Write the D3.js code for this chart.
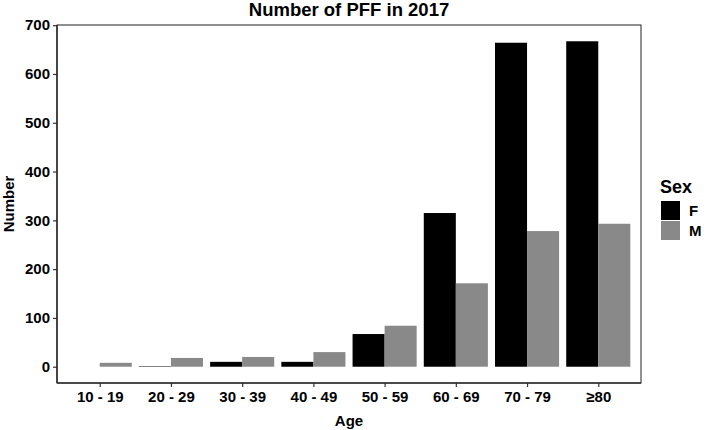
<!DOCTYPE html>
<html>
<script src="https://d3js.org/d3.v7.min.js"></script>
<style>
  body { margin: 0; background: white; }
  text { font-family: "Liberation Sans", Arial, sans-serif; font-weight: bold; fill: black; }
</style>
<body>
<svg width="709" height="430"></svg>
<script>
// data
var ages = ["10 - 19", "20 - 29", "30 - 39", "40 - 49", "50 - 59", "60 - 69", "70 - 79", "\u226580"];
var sexes = ["F", "M"];
var female = [0, 1, 10, 10, 67, 315, 664, 667];
var male = [8, 18, 20, 30, 84, 171, 278, 293];
var yTicks = [0, 100, 200, 300, 400, 500, 600, 700];
var colors = ["#000000", "#898989"];

var svg = d3.select("svg");
var pLeft = 57, pRight = 641, pTop = 25, pBottom = 383;

// discrete axis with 0.6 expansion on each side, like ggplot
var x = d3.scalePoint().domain(ages).range([pLeft, pRight]).padding(0.6);
var step = x.step();
var xs = d3.scaleBand().domain(sexes).range([-0.45 * step, 0.45 * step]);
var y = d3.scaleLinear().domain([-33.35, 700.35]).range([pBottom, pTop]);

var rows = ages.map(function(a, i) { return {age: a, values: [female[i], male[i]]}; });

// panel border
svg.append("rect")
  .attr("x", pLeft).attr("y", pTop)
  .attr("width", pRight - pLeft).attr("height", pBottom - pTop)
  .attr("fill", "white").attr("stroke", "#222").attr("stroke-width", 1);

var g = svg.append("g");
rows.forEach(function(r) {
  r.values.forEach(function(v, j) {
    if (v <= 0) return;
    g.append("rect")
      .attr("x", x(r.age) + xs(sexes[j]))
      .attr("width", xs.bandwidth())
      .attr("y", y(v))
      .attr("height", y(0) - y(v))
      .attr("fill", colors[j]);
  });
});

// axes
var yAxis = svg.append("g")
  .attr("transform", "translate(" + pLeft + ",0)")
  .call(d3.axisLeft(y).tickValues(yTicks).tickSize(4).tickPadding(3));
var xAxis = svg.append("g")
  .attr("transform", "translate(0," + pBottom + ")")
  .call(d3.axisBottom(x).tickSize(4).tickPadding(4));
[yAxis, xAxis].forEach(function(a) {
  a.select(".domain").attr("stroke", "#333").attr("stroke-width", 1.6);
  a.selectAll(".tick line").attr("stroke", "#333").attr("stroke-width", 1.2);
  a.selectAll(".tick text").style("font-size", "15px").attr("fill", "black");
});
yAxis.select(".domain").attr("d", "M0," + pBottom + "V" + pTop);
xAxis.select(".domain").attr("d", "M" + pLeft + ",0H" + pRight);

// titles
svg.append("text")
  .attr("x", (pLeft + pRight) / 2).attr("y", 16)
  .attr("text-anchor", "middle")
  .style("font-size", "18.5px")
  .text("Number of PFF in 2017");

svg.append("text")
  .attr("x", (pLeft + pRight) / 2).attr("y", 426)
  .attr("text-anchor", "middle")
  .style("font-size", "15px")
  .text("Age");

svg.append("text")
  .attr("transform", "translate(14," + (pTop + pBottom) / 2 + ") rotate(-90)")
  .attr("text-anchor", "middle")
  .style("font-size", "15px")
  .text("Number");

// legend
var legend = svg.append("g").attr("transform", "translate(660,0)");
legend.append("text").attr("x", 0).attr("y", 193).style("font-size", "18px").text("Sex");
sexes.forEach(function(s, i) {
  legend.append("rect")
    .attr("x", 1).attr("y", 201 + i * 20)
    .attr("width", 19).attr("height", 19)
    .attr("fill", colors[i]);
  legend.append("text")
    .attr("x", 29).attr("y", 216 + i * 20)
    .style("font-size", "15px")
    .text(s);
});
</script>
</body>
</html>
